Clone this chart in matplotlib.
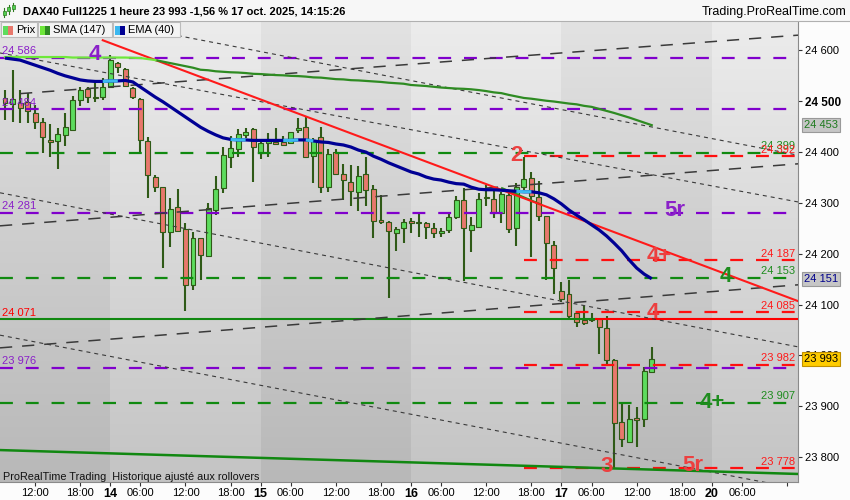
import matplotlib
matplotlib.use("Agg")
import matplotlib.pyplot as plt
import matplotlib.transforms as mtransforms
from matplotlib.patches import Rectangle
import numpy as np

plt.rcParams['font.family'] = ['Liberation Sans', 'DejaVu Sans']

W, H = 850, 500

# ---------------- data (hourly candles, 13 Oct 08:00 -> 17 Oct 14:00) ----------------
opens = [24507, 24495, 24497, 24499, 24477, 24460, 24424, 24422, 24434, 24444,
         24503, 24524, 24509, 24509, 24528, 24575, 24564, 24526, 24505, 24422,
         24351, 24332, 24243, 24293, 24249, 24139, 24232, 24196, 24287, 24330,
         24391, 24406, 24434, 24446, 24399, 24418, 24420, 24420, 24418, 24444,
         24450, 24393, 24430, 24332, 24401, 24357, 24342, 24322, 24357, 24328,
         24267, 24263, 24241, 24251, 24265, 24261, 24261, 24251, 24241, 24247,
         24273, 24306, 24247, 24253, 24310, 24308, 24281, 24316, 24251, 24332,
         24350, 24312, 24275, 24218, 24126, 24120, 24084, 24069, 24071, 24071,
         24055, 23992, 23870, 23829, 23878, 23876, 23968]
highs = [24522, 24562, 24522, 24517, 24493, 24467, 24456, 24448, 24477, 24511,
         24528, 24528, 24536, 24546, 24591, 24577, 24566, 24528, 24507, 24430,
         24355, 24332, 24310, 24328, 24261, 24243, 24232, 24300, 24353, 24410,
         24432, 24446, 24448, 24448, 24426, 24438, 24448, 24432, 24440, 24467,
         24469, 24428, 24450, 24406, 24406, 24377, 24375, 24373, 24391, 24336,
         24316, 24265, 24253, 24269, 24271, 24281, 24263, 24261, 24251, 24279,
         24314, 24330, 24273, 24320, 24336, 24326, 24322, 24320, 24340, 24391,
         24361, 24344, 24275, 24226, 24145, 24149, 24084, 24098, 24084, 24073,
         24077, 23994, 23906, 23902, 23898, 23978, 24017]
lows = [24463, 24460, 24458, 24458, 24446, 24399, 24391, 24367, 24412, 24442,
        24491, 24497, 24499, 24503, 24526, 24556, 24528, 24505, 24399, 24310,
        24322, 24173, 24214, 24243, 24088, 24129, 24149, 24194, 24277, 24320,
        24369, 24391, 24428, 24342, 24387, 24391, 24416, 24414, 24418, 24438,
        24391, 24340, 24320, 24322, 24357, 24306, 24294, 24285, 24294, 24232,
        24259, 24114, 24206, 24222, 24241, 24234, 24230, 24232, 24234, 24241,
        24269, 24147, 24204, 24253, 24294, 24271, 24261, 24241, 24216, 24326,
        24194, 24265, 24149, 24120, 24106, 24071, 24057, 24059, 24065, 24002,
        23984, 23778, 23821, 23827, 23821, 23860, 23966]
closes = [24497, 24505, 24487, 24480, 24460, 24430, 24420, 24436, 24450, 24503,
          24522, 24509, 24507, 24528, 24581, 24568, 24530, 24509, 24424, 24355,
          24332, 24243, 24289, 24245, 24139, 24232, 24198, 24291, 24328, 24395,
          24408, 24436, 24440, 24410, 24418, 24422, 24416, 24414, 24440, 24448,
          24391, 24424, 24332, 24397, 24357, 24346, 24324, 24353, 24326, 24265,
          24263, 24245, 24249, 24263, 24261, 24261, 24253, 24241, 24245, 24273,
          24306, 24251, 24257, 24308, 24312, 24281, 24318, 24249, 24332, 24348,
          24314, 24275, 24222, 24173, 24112, 24078, 24065, 24063, 24069, 24057,
          23992, 23868, 23835, 23876, 23874, 23970, 23993]
sma147 = [24587, 24587, 24587, 24587, 24587, 24587, 24587, 24587, 24587, 24586,
          24586, 24586, 24586, 24586, 24586, 24586, 24586, 24585.5, 24585, 24583,
          24581, 24578, 24575, 24572, 24569, 24566, 24562, 24561, 24559, 24558,
          24557, 24556.5, 24555.5, 24554, 24553.5, 24552.5, 24551.5, 24551, 24550, 24549.5,
          24548.5, 24547, 24546.5, 24545, 24543.5, 24543, 24541.5, 24541, 24540, 24539,
          24538, 24536.5, 24535.5, 24534.5, 24532, 24531, 24530, 24528.5, 24527, 24526,
          24525, 24524.5, 24523.5, 24522, 24520, 24517.5, 24516, 24512.5, 24509.5, 24506.5,
          24505, 24503, 24501, 24499.5, 24497.5, 24495.5, 24494, 24491, 24489, 24485,
          24481, 24477, 24472.5, 24468, 24463, 24458, 24453]
ema40 = [24585, 24583, 24581, 24576, 24571, 24566, 24561, 24555, 24550, 24546,
         24542, 24540, 24539, 24539, 24540, 24540, 24541, 24538, 24528, 24518,
         24508, 24499, 24489, 24479, 24469, 24459, 24449, 24441, 24434, 24428,
         24425, 24424, 24424, 24423, 24423, 24423, 24423, 24423, 24423, 24424,
         24424, 24422, 24420, 24419, 24416, 24414, 24410, 24404, 24400, 24392,
         24386, 24379, 24373, 24367, 24361, 24357, 24351, 24347, 24345, 24341,
         24338, 24337, 24331, 24327, 24326, 24326, 24325, 24324, 24323, 24322,
         24322, 24320, 24316, 24308, 24298, 24286, 24276, 24267, 24257, 24247,
         24235, 24221, 24206, 24188, 24172, 24160, 24151]
ema_flat_segments = [(13, 15), (30, 32), (37, 39), (40, 41), (68, 70)]
sma_rising_until = 20

x_tick_pos = [4, 10, 14, 18, 24, 30, 34, 38, 44, 50, 54, 58, 64, 70, 74, 78, 84, 90, 94, 98, 104]
x_tick_labels = ['12:00', '18:00', '14', '06:00', '12:00', '18:00', '15', '06:00', '12:00', '18:00',
                 '16', '06:00', '12:00', '18:00', '17', '06:00', '12:00', '18:00', '20', '06:00', '']
day_labels = ['14', '15', '16', '17', '20']
day_starts = [14, 34, 54, 74, 94]
y_ticks = [23800, 23900, 24000, 24100, 24200, 24300, 24400, 24500, 24600]

purple_levels = [24586, 24484, 24281, 23976]
green_levels = [24399, 24153, 23907]
red_levels = [24392, 24187, 24085, 23982, 23778]
red_levels_from = 69.0
support_level = 24071
support_switch = 78.6

red_trend = [(13.0, 24620), (105.45, 24107)]
green_trend = [(-0.665, 23814), (105.45, 23767)]
green_short = [(66.1, 24329), (71.1, 24298)]
channel_lines = [[(2.0, 24515), (105.45, 24630)],
                 [(-0.665, 24255), (105.45, 24377)],
                 [(-0.665, 24015), (105.45, 24139)]]
dotted_lines = [[(13.56, 24656), (105.45, 24394)],
                [(-0.665, 24595), (105.45, 24302)],
                [(-0.665, 24320), (105.45, 24017)],
                [(-0.665, 24040), (105.45, 23738)]]

PURPLE = '#8000cc'
PURPLE_T = '#8a20c8'
GREEN_D = '#108a10'
RED_D = '#ff1010'
RED_T = '#ec4040'
GREEN_T = '#1e8c1e'

wave_labels = [("4", 12.0, 24592, PURPLE_T), ("2", 68.0, 24394, RED_T),
               ("5r", 89.1, 24285, PURPLE_T), ("4+", 87.0, 24195, RED_T),
               ("4", 95.9, 24155, GREEN_T), ("4", 86.1, 24085, RED_T),
               ("4+", 94.0, 23907, GREEN_T), ("3", 80.05, 23782, RED_T),
               ("5r", 91.4, 23783, RED_T)]

last_price = 23993
sma_last = 24453
ema_last = 24151

XMIN, XMAX = -0.665, 105.45
YMIN, YMAX = 23751.2, 24655.9

# ---------------- figure ----------------
fig = plt.figure(figsize=(W / 100, H / 100), dpi=100, facecolor='#fcfcfc')


def FX(px):
    return px / W


def FY(py):
    return 1 - py / H


ax = fig.add_axes([0, FY(482), FX(798), (482 - 22) / H])
ax.set_facecolor('#dddddd')

# background day bands with vertical gradient
bounds = [XMIN] + day_starts + [XMAX]
grad = np.linspace(0, 1, 256)[:, None, None]
for k in range(len(bounds) - 1):
    if k % 2 == 0:
        top, bot = np.array([226, 226, 226]), np.array([184, 184, 184])
    else:
        top, bot = np.array([236, 236, 236]), np.array([196, 196, 196])
    img = (top * (1 - grad) + bot * grad) / 255.0
    ax.imshow(img, extent=(bounds[k], bounds[k + 1], YMIN, YMAX), aspect='auto',
              origin='upper', zorder=0, interpolation='bilinear')

ax.set_xlim(XMIN, XMAX)
ax.set_ylim(YMIN, YMAX)
ax.set_autoscale_on(False)

# candles
UP = '#5ddc5d'
DN = '#e8786c'
WICK = '#2f5a17'
for i in range(len(opens)):
    o, h, l, c = opens[i], highs[i], lows[i], closes[i]
    col = UP if c >= o else DN
    ax.vlines(i, l, h, color=WICK, lw=1.5, zorder=2)
    b0 = min(o, c)
    bh = max(abs(c - o), 1.5)
    ax.add_patch(Rectangle((i - 0.33, b0), 0.66, bh, facecolor=col, edgecolor=WICK,
                           lw=0.8, zorder=2.5))

# horizontal dashed levels
dash = (0, (5.8, 5.8))
for v in purple_levels:
    ax.plot([XMIN, XMAX], [v, v], color=PURPLE, lw=1.6, ls=dash, zorder=3)
for v in green_levels:
    ax.plot([XMIN, XMAX], [v, v], color=GREEN_D, lw=1.6, ls=dash, zorder=3)
for v in red_levels:
    ax.plot([red_levels_from, XMAX], [v, v], color=RED_D, lw=1.6, ls=dash, zorder=3)

# support line 24071
ax.plot([XMIN, support_switch], [support_level] * 2, color='#118811', lw=1.5, zorder=3)
ax.plot([support_switch, XMAX], [support_level] * 2, color='#ff0000', lw=1.5, zorder=3)

# channel (long dash) lines
for ln in channel_lines:
    xs, ys = zip(*ln)
    ax.plot(xs, ys, color='#3a3a3a', lw=1.1, ls=(0, (8, 6.5)), zorder=3)
# dotted lines
for ln in dotted_lines:
    xs, ys = zip(*ln)
    ax.plot(xs, ys, color='#3a3a3a', lw=0.8, ls=(0, (3.6, 3.6)), zorder=3)

# trend lines
xs, ys = zip(*green_trend)
ax.plot(xs, ys, color='#118811', lw=1.8, zorder=3.5)
xs, ys = zip(*green_short)
ax.plot(xs, ys, color='#2a8a1a', lw=1.5, zorder=3.5)
xs, ys = zip(*red_trend)
ax.plot(xs, ys, color='#ff1a1a', lw=1.5, zorder=4)

# SMA
t = np.arange(len(sma147))
ax.plot(t[sma_rising_until:], sma147[sma_rising_until:], color='#2e8b22', lw=1.6, zorder=4)
ax.plot(t[:sma_rising_until + 1], sma147[:sma_rising_until + 1], color='#6ee83a', lw=1.6, zorder=4)

# EMA
ax.plot(t, ema40, color='#000094', lw=2.3, zorder=4.2, solid_capstyle='butt')
for a, b in ema_flat_segments:
    ax.plot(t[a:b + 1], ema40[a:b + 1], color='#3cb8f0', lw=2.3, zorder=4.3, solid_capstyle='butt')


def fmt(v):
    return f"{int(v):,}".replace(',', ' ')


blend = mtransforms.blended_transform_factory(ax.transAxes, ax.transData)

# left labels
for v in purple_levels:
    ax.annotate(fmt(v), xy=(2 / 798, v), xycoords=blend, xytext=(0, 2.6),
                textcoords='offset points', ha='left', va='baseline', fontsize=8,
                color=PURPLE_T, zorder=6)
ax.annotate(fmt(support_level), xy=(2 / 798, support_level), xycoords=blend, xytext=(0, 2.6),
            textcoords='offset points', ha='left', va='baseline', fontsize=8,
            color='#ff0000', zorder=6)
# right labels
for v in green_levels:
    ax.annotate(fmt(v), xy=(795 / 798, v), xycoords=blend, xytext=(0, 2.6),
                textcoords='offset points', ha='right', va='baseline', fontsize=8,
                color=GREEN_T, zorder=6)
for v in red_levels:
    ax.annotate(fmt(v), xy=(795 / 798, v), xycoords=blend, xytext=(0, 2.6),
                textcoords='offset points', ha='right', va='baseline', fontsize=8,
                color='#ff1a1a', zorder=6)

# wave labels
for txt, x, y, c in wave_labels:
    ax.text(x, y, txt, color=c, fontsize=16, fontweight='bold', ha='center', va='center', zorder=6)

# axes styling
for s in ['top', 'left']:
    ax.spines[s].set_visible(False)
ax.spines['right'].set_color('#8a8a8a')
ax.spines['bottom'].set_color('#8a8a8a')
ax.yaxis.tick_right()
ax.set_yticks(y_ticks)
ax.set_yticklabels([fmt(v) for v in y_ticks])
ax.tick_params(axis='y', direction='out', length=3, width=0.8, colors='#333333',
               labelsize=8, pad=2, labelcolor='black')
for lab in ax.get_yticklabels():
    if lab.get_text() == '24 500':
        lab.set_fontweight('bold')
        lab.set_fontsize(8.5)
ax.set_xticks(x_tick_pos)
ax.set_xticklabels(x_tick_labels)
ax.tick_params(axis='x', direction='out', length=3, width=0.8, colors='#333333',
               labelsize=8, pad=1.5, labelcolor='black')
for lab in ax.get_xticklabels():
    if lab.get_text() in day_labels:
        lab.set_fontweight('bold')
        lab.set_fontsize(9)

# price boxes on right axis
ax.text(1 + 6 / 798, sma_last, fmt(sma_last), transform=blend, clip_on=False, fontsize=8,
        color='#1e7a1e', va='center', ha='left', zorder=10,
        bbox=dict(boxstyle='square,pad=0.18', fc='#c6c6c6', ec='#999999', lw=0.8))
ax.text(1 + 6 / 798, ema_last, fmt(ema_last), transform=blend, clip_on=False, fontsize=8,
        color='#00008c', va='center', ha='left', zorder=10,
        bbox=dict(boxstyle='square,pad=0.18', fc='#c6c6c6', ec='#999999', lw=0.8))
ax.text(1 + 6 / 798, last_price, fmt(last_price), transform=blend, clip_on=False, fontsize=8,
        color='black', va='center', ha='left', zorder=10,
        bbox=dict(boxstyle='square,pad=0.18', fc='#ffcc00', ec='#c09000', lw=0.8))

# bottom note
fig.text(FX(3), FY(476.5), "ProRealTime Trading  Historique ajusté aux rollovers",
         fontsize=7.8, va='center', ha='left', color='#111111', zorder=10)

# title bar
fig.add_artist(Rectangle((0, FY(21)), 1, 21 / H, transform=fig.transFigure,
                         facecolor='#f7f7f7', edgecolor='none', zorder=8))
fig.add_artist(plt.Line2D([0, 1], [FY(21), FY(21)], transform=fig.transFigure,
                          color='#b0b0b0', lw=0.8, zorder=9))
# candle icon
for k, (x0, y0, y1, b0, b1) in enumerate([(4, 8, 17, 11, 15), (8.5, 5, 14, 7, 11),
                                           (13, 3, 11, 5, 9)]):
    fig.add_artist(plt.Line2D([FX(x0), FX(x0)], [FY(y1), FY(y0)], transform=fig.transFigure,
                              color='#2f7a1f', lw=0.8, zorder=10))
    fig.add_artist(Rectangle((FX(x0 - 1.5), FY(b1)), 3 / W, (b1 - b0) / H,
                             transform=fig.transFigure, facecolor='#50d050',
                             edgecolor='#2f7a1f', lw=0.5, zorder=11))
fig.text(FX(23), FY(11.5), "DAX40 Full1225 1 heure 23 993 -1,56 % 17 oct. 2025, 14:15:26",
         fontsize=8, fontweight='bold', va='center', ha='left', color='black', zorder=10)
fig.text(FX(846), FY(11.5), "Trading.ProRealTime.com", fontsize=9,
         va='center', ha='right', color='black', zorder=10)

# legend row
legend_items = [(1, 37, "Prix", UP, DN), (38, 112, "SMA (147)", '#6ee83a', '#2e8b22'),
                (113, 180, "EMA (40)", '#3cb8f0', '#000094')]
for x0, x1, txt, c1, c2 in legend_items:
    fig.add_artist(Rectangle((FX(x0), FY(37)), (x1 - x0) / W, 15 / H, transform=fig.transFigure,
                             facecolor='#f4f4f4', edgecolor='#bcbcbc', lw=0.8, zorder=8))
    fig.add_artist(Rectangle((FX(x0 + 1.5), FY(35)), 5 / W, 9 / H, transform=fig.transFigure,
                             facecolor=c1, edgecolor='none', zorder=9))
    fig.add_artist(Rectangle((FX(x0 + 6.5), FY(35)), 5 / W, 9 / H, transform=fig.transFigure,
                             facecolor=c2, edgecolor='none', zorder=9))
    fig.text(FX(x0 + 15), FY(29.8), txt, fontsize=8, va='center', ha='left',
             color='black', zorder=10)

fig.savefig('out.png', dpi=100, facecolor=fig.get_facecolor())
